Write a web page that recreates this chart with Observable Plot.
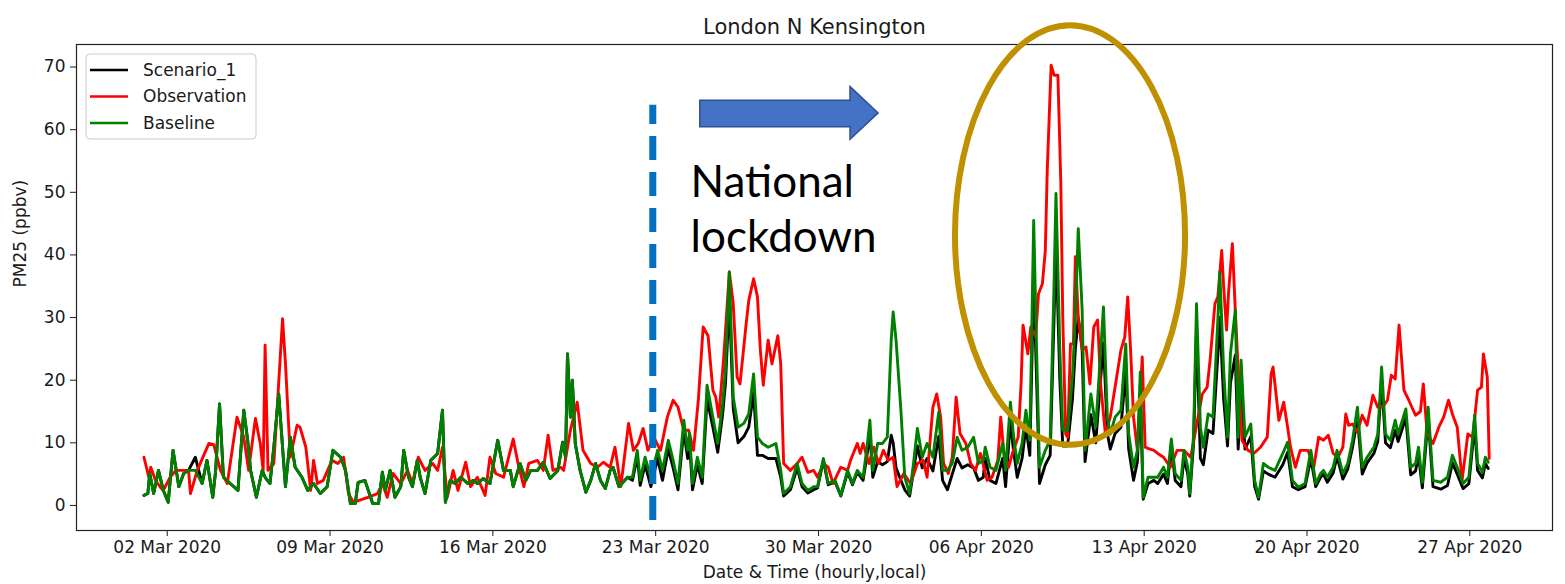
<!DOCTYPE html>
<html>
<head>
<meta charset="utf-8">
<script src="https://cdn.jsdelivr.net/npm/d3@7"></script>
<script src="https://cdn.jsdelivr.net/npm/@observablehq/plot@0.6"></script>
<style>
  html, body { margin: 0; padding: 0; background: #fff; }
  #chart svg { display: block; overflow: visible; }
</style>
</head>
<body>
<div id="chart"></div>
<script>
// ---- labels ----
const title = "London N Kensington";
const yLabel = "PM25 (ppbv)";
const xLabel = "Date & Time (hourly,local)";
const seriesNames = ["Scenario_1", "Observation", "Baseline"];
const seriesColors = ["#000000", "#ff0000", "#008000"];
const tickDates = ["2020-03-02", "2020-03-09", "2020-03-16", "2020-03-23", "2020-03-30",
                   "2020-04-06", "2020-04-13", "2020-04-20", "2020-04-27"];
const yTicks = [0, 10, 20, 30, 40, 50, 60, 70];

// ---- hourly PM2.5, stored as [hours since 01 Mar 2020 00:00, value] ----
const startTime = Date.UTC(2020, 2, 1, 0);

const observation = [
  [0,7.7],[5,4.5],[7,6.1],[12,4.0],[17,2.9],[20,2.4],[27,4.5],[33,5.6],[46,5.6],[48,1.9],[55,5.6],[67,9.9],
  [72,9.7],[79,5.6],[86,3.5],[96,14.1],[103,10.9],[108,5.6],[115,13.9],[120,9.9],[123,5.6],[125,25.6],[128,5.6],
  [134,6.7],[143,29.8],[146,22.7],[151,7.7],[158,12.8],[161,12.5],[167,9.3],[172,2.4],[175,7.2],[179,3.5],[185,4.0],
  [194,7.2],[200,6.7],[206,7.7],[211,1.9],[216,0.5],[231,1.3],[241,1.9],[246,3.5],[251,1.3],[257,5.1],[265,3.5],
  [272,5.6],[277,3.5],[283,7.7],[290,5.6],[298,6.7],[303,5.6],[308,9.3],[313,1.3],[319,5.6],[324,2.4],[332,6.9],
  [337,3.0],[344,4.5],[352,1.6],[357,7.7],[363,5.1],[371,4.5],[381,10.6],[386,6.7],[392,3.0],[397,6.7],[406,7.2],
  [412,5.6],[417,11.2],[422,5.6],[430,6.1],[433,5.6],[440,12.0],[447,16.5],[453,8.8],[461,6.7],[468,6.1],[474,6.9],
  [481,6.1],[486,9.3],[492,3.0],[500,13.1],[505,8.8],[510,9.9],[515,12.3],[520,8.8],[526,10.9],[533,8.8],[540,14.1],
  [546,16.8],[551,15.7],[557,12.0],[562,12.0],[567,8.8],[572,16.8],[577,28.5],[582,27.1],[587,18.4],[590,17.3],
  [593,14.1],[598,23.2],[604,37.3],[608,32.2],[612,20.5],[615,19.4],[621,28.5],[624,32.7],[629,36.2],[633,33.3],
  [636,24.8],[639,19.2],[644,26.4],[648,22.6],[654,27.1],[657,22.6],[660,6.7],[667,5.6],[674,6.7],[679,7.7],
  [685,5.3],[691,5.6],[695,4.5],[701,6.7],[706,6.1],[711,3.5],[719,6.1],[726,5.6],[729,7.2],[736,9.9],[739,8.3],
  [742,9.9],[748,6.7],[753,9.3],[758,6.7],[763,8.8],[768,7.2],[773,7.7],[777,3.0],[784,5.1],[791,3.5],[798,6.7],
  [804,7.2],[808,4.5],[814,15.7],[818,17.8],[822,14.1],[825,6.7],[830,5.1],[834,7.7],[838,17.3],[842,11.5],
  [848,9.9],[853,6.7],[858,5.6],[863,8.3],[870,4.0],[875,4.5],[881,7.2],[884,14.1],[887,8.8],[892,6.1],[897,8.8],
  [902,10.9],[905,19.4],[907,28.8],[912,24.2],[915,28.5],[920,26.9],[923,33.8],[927,35.4],[930,40.7],[932,53.5],
  [936,70.3],[939,68.7],[943,68.7],[946,51.4],[948,30.1],[951,11.4],[953,10.9],[956,25.8],[959,25.8],[961,39.7],
  [964,30.1],[968,24.8],[972,25.3],[976,19.4],[980,28.5],[984,29.6],[987,19.4],[992,11.4],[997,14.1],[1002,18.9],
  [1008,24.8],[1012,26.9],[1015,33.3],[1018,24.8],[1021,14.1],[1025,8.8],[1030,23.7],[1033,9.3],[1036,9.1],
  [1042,8.8],[1046,8.3],[1052,7.7],[1059,6.1],[1066,8.8],[1073,8.8],[1080,7.7],[1087,13.6],[1092,17.8],[1097,18.9],
  [1100,23.2],[1105,32.2],[1108,33.3],[1112,40.7],[1114,34.9],[1117,28.0],[1119,33.8],[1123,41.8],[1126,31.2],
  [1129,21.6],[1133,10.4],[1139,8.8],[1145,8.3],[1152,9.3],[1159,10.9],[1163,21.0],[1165,22.1],[1171,13.6],
  [1176,16.5],[1180,12.5],[1183,9.3],[1188,6.1],[1193,8.8],[1201,8.8],[1207,6.1],[1212,10.9],[1217,10.4],
  [1222,11.2],[1227,8.3],[1232,7.7],[1237,9.3],[1240,14.6],[1243,12.8],[1247,13.0],[1252,11.7],[1257,14.4],
  [1262,12.8],[1268,17.6],[1273,15.7],[1278,15.7],[1283,16.8],[1287,20.8],[1291,20.2],[1295,28.8],[1300,18.4],
  [1305,16.8],[1312,14.4],[1317,15.0],[1320,19.4],[1324,11.4],[1330,9.9],[1336,12.5],[1341,14.1],[1346,16.8],
  [1350,14.6],[1355,12.5],[1360,4.0],[1366,11.4],[1371,10.9],[1376,18.4],[1380,18.9],[1382,24.2],[1386,20.5],[1388,7.5]
];

const baseline = [
  [0,1.6],[4,1.9],[6,5.1],[10,1.9],[15,5.6],[20,2.4],[25,0.5],[30,8.8],[36,3.0],[41,5.1],[46,5.6],[53,5.6],[60,3.5],
  [65,7.2],[71,1.3],[74,5.6],[78,16.2],[82,4.5],[89,3.5],[97,2.4],[103,15.2],[107,10.4],[110,5.6],[116,1.3],[122,5.6],
  [125,4.5],[130,3.5],[134,9.3],[139,17.8],[144,7.2],[146,3.0],[151,10.9],[156,6.1],[163,4.5],[169,2.4],[175,3.5],
  [182,1.9],[189,3.0],[195,8.8],[203,7.7],[208,5.6],[213,0.3],[218,0.3],[221,3.7],[228,4.0],[236,0.3],[242,0.3],
  [246,5.3],[249,2.4],[254,5.6],[259,1.3],[265,3.0],[268,8.8],[273,4.5],[277,3.0],[282,7.2],[285,4.5],[290,1.9],
  [296,7.2],[303,8.3],[308,15.2],[311,0.5],[316,4.0],[321,3.5],[327,4.5],[334,3.5],[340,4.0],[344,3.5],[350,4.3],
  [357,3.5],[365,10.4],[371,5.6],[378,5.6],[381,3.0],[388,6.7],[394,4.0],[399,5.6],[406,5.6],[412,6.9],[419,4.3],
  [427,5.6],[432,10.1],[435,7.7],[437,24.2],[440,14.1],[442,20.0],[445,9.9],[450,5.6],[456,2.1],[461,4.0],[466,6.7],
  [471,4.0],[476,2.7],[481,5.6],[484,6.1],[490,3.0],[499,4.5],[504,4.5],[509,8.8],[512,4.0],[517,7.7],[523,4.5],
  [530,8.8],[535,5.6],[541,10.4],[546,7.2],[551,3.5],[557,13.6],[561,8.8],[563,11.5],[566,3.5],[571,7.7],[576,4.5],
  [581,19.2],[587,14.1],[592,9.9],[597,16.2],[600,21.6],[604,37.3],[608,17.3],[613,12.5],[619,13.1],[624,14.6],
  [629,21.0],[633,10.9],[638,9.9],[644,9.3],[652,9.9],[657,5.6],[660,1.9],[667,3.0],[674,6.7],[679,3.5],[685,2.4],
  [691,3.0],[695,3.0],[701,7.5],[706,3.5],[713,4.0],[719,1.6],[726,5.6],[731,3.5],[736,5.6],[742,4.5],[746,9.3],
  [749,13.6],[752,5.6],[757,9.9],[762,9.9],[767,10.9],[771,26.4],[773,30.9],[776,26.4],[781,15.2],[785,4.5],
  [790,1.9],[794,6.7],[798,12.3],[803,7.7],[808,9.9],[814,7.7],[820,14.9],[824,5.6],[829,5.6],[834,6.7],[839,10.9],
  [844,8.8],[850,9.3],[856,10.9],[861,6.7],[866,7.2],[868,9.3],[873,6.1],[879,5.6],[886,9.9],[889,5.6],[894,16.5],
  [897,11.4],[901,6.7],[906,9.9],[910,15.2],[914,10.4],[918,45.5],[921,24.8],[924,6.1],[930,8.8],[935,10.4],
  [939,35.4],[941,49.8],[945,24.8],[948,12.0],[953,12.0],[958,20.5],[961,30.1],[964,44.2],[968,31.2],[971,8.8],
  [977,17.8],[982,12.5],[985,19.4],[990,31.7],[994,14.1],[997,11.4],[1002,14.1],[1008,15.2],[1013,25.8],[1016,11.4],
  [1021,6.1],[1025,8.8],[1028,21.3],[1031,1.3],[1036,4.5],[1042,4.5],[1046,4.5],[1052,6.1],[1056,4.5],[1060,10.6],
  [1064,5.1],[1070,4.0],[1073,8.8],[1077,6.1],[1079,1.9],[1083,11.4],[1086,32.2],[1090,12.5],[1093,9.3],[1098,14.6],
  [1103,14.1],[1108,29.6],[1110,37.3],[1114,21.6],[1118,10.9],[1121,24.2],[1126,31.2],[1129,10.9],[1132,23.2],
  [1136,10.9],[1142,13.0],[1146,4.0],[1150,1.3],[1155,6.7],[1160,6.1],[1167,5.6],[1175,8.3],[1180,10.1],[1185,4.0],
  [1191,2.9],[1198,3.5],[1204,8.8],[1209,3.5],[1214,5.1],[1217,5.6],[1221,4.5],[1227,6.1],[1231,8.8],[1237,5.1],
  [1242,6.7],[1247,10.4],[1252,15.7],[1257,6.1],[1262,7.7],[1269,9.3],[1273,11.4],[1277,22.1],[1281,11.4],
  [1286,10.4],[1291,13.6],[1294,11.4],[1302,15.4],[1307,6.1],[1312,6.7],[1315,9.3],[1319,3.7],[1325,15.7],
  [1330,4.0],[1338,3.7],[1345,4.5],[1350,8.0],[1355,6.1],[1361,3.5],[1367,4.5],[1373,14.4],[1376,6.7],[1381,5.3],
  [1384,7.7],[1387,6.9]
];

const scenario1 = [
  [0,1.6],[4,1.9],[6,5.1],[10,1.9],[15,5.6],[20,2.4],[25,0.5],[30,8.8],[36,3.0],[41,5.1],[46,5.6],[53,7.7],[60,3.5],
  [65,7.2],[71,1.3],[74,5.6],[78,16.2],[82,4.5],[89,3.5],[97,2.4],[103,15.2],[107,10.4],[110,5.6],[116,1.3],[122,5.6],
  [125,4.5],[130,3.5],[134,9.3],[139,17.8],[144,7.2],[146,3.0],[151,10.9],[156,6.1],[163,4.5],[169,2.4],[175,3.5],
  [182,1.9],[189,3.0],[195,8.8],[203,7.7],[208,5.6],[213,0.3],[218,0.3],[221,3.7],[228,4.0],[236,0.3],[242,0.3],
  [246,5.3],[249,2.4],[254,5.6],[259,1.3],[265,3.0],[268,8.8],[273,4.5],[277,3.0],[282,7.2],[285,4.5],[290,1.9],
  [296,7.2],[303,8.3],[308,15.2],[311,0.5],[316,4.0],[321,3.5],[327,4.5],[334,3.5],[340,4.0],[344,3.5],[350,4.3],
  [357,3.5],[365,10.4],[371,5.6],[378,5.6],[381,3.0],[388,6.7],[394,4.0],[399,5.6],[406,5.6],[412,6.9],[419,4.3],
  [427,5.6],[432,10.1],[435,7.7],[437,24.2],[440,14.1],[442,20.0],[445,9.9],[450,5.6],[456,2.1],[461,4.0],[466,6.7],
  [471,4.0],[476,2.7],[481,5.6],[484,6.1],[490,3.0],[499,4.5],[504,4.0],[509,7.8],[512,3.2],[517,6.5],[523,3.0],
  [530,7.5],[535,4.0],[541,9.0],[546,6.0],[551,2.5],[557,12.0],[561,7.5],[563,10.0],[566,2.5],[571,6.5],[576,3.5],
  [581,17.0],[587,12.5],[592,8.5],[597,14.5],[600,19.5],[604,33.0],[608,15.5],[613,10.0],[619,11.0],[624,12.5],
  [629,18.0],[633,8.0],[638,8.0],[644,7.5],[652,7.5],[657,4.5],[660,1.5],[667,2.5],[674,6.0],[679,3.0],[685,2.0],
  [691,2.5],[695,2.8],[701,7.2],[706,3.3],[713,3.8],[719,1.5],[726,5.3],[731,3.3],[736,5.3],[742,4.0],[746,8.0],
  [749,11.5],[752,4.5],[757,7.0],[762,6.5],[767,7.0],[771,11.2],[773,10.0],[776,6.0],[781,4.0],[785,2.5],[790,1.5],
  [794,5.5],[798,9.5],[803,6.0],[808,7.5],[814,5.5],[820,11.0],[824,4.0],[829,2.5],[834,5.0],[839,7.5],[844,6.0],
  [850,6.5],[856,6.0],[861,4.0],[866,4.5],[868,7.5],[873,4.0],[879,3.5],[886,7.5],[889,3.0],[894,13.5],[897,9.0],
  [901,4.5],[906,7.5],[910,12.5],[914,8.0],[918,36.0],[921,20.0],[924,3.5],[930,6.5],[935,8.0],[939,30.0],[941,42.0],
  [945,20.0],[948,9.5],[953,9.5],[958,17.0],[961,25.0],[964,30.0],[968,25.0],[971,7.0],[977,14.5],[982,10.0],
  [985,16.0],[990,26.0],[994,11.5],[997,9.0],[1002,11.5],[1008,12.5],[1013,21.5],[1016,9.0],[1021,4.0],[1025,7.0],
  [1028,17.5],[1031,1.0],[1036,3.5],[1042,4.0],[1046,3.5],[1052,5.0],[1056,3.5],[1060,9.5],[1064,4.0],[1070,3.0],
  [1073,7.5],[1077,5.0],[1079,1.5],[1083,10.0],[1086,28.0],[1090,7.5],[1093,6.5],[1098,12.0],[1103,11.5],
  [1108,24.0],[1110,30.0],[1114,17.0],[1118,9.5],[1121,19.5],[1126,24.0],[1129,9.0],[1132,19.0],[1136,9.0],
  [1142,11.0],[1146,3.0],[1150,1.0],[1155,5.5],[1160,5.0],[1167,4.5],[1175,6.5],[1180,8.5],[1185,3.0],[1191,2.5],
  [1198,3.0],[1204,7.5],[1209,3.0],[1214,4.5],[1217,5.0],[1221,3.7],[1227,5.2],[1231,7.8],[1237,4.2],[1242,5.8],
  [1247,9.3],[1252,14.0],[1257,5.0],[1262,6.8],[1269,8.3],[1273,10.2],[1277,20.0],[1281,10.0],[1286,9.2],
  [1291,12.0],[1294,10.2],[1302,14.0],[1307,4.9],[1312,5.5],[1315,8.0],[1319,2.8],[1325,14.0],[1330,3.0],
  [1338,2.6],[1345,3.2],[1350,6.8],[1355,5.0],[1361,2.7],[1367,3.5],[1373,12.8],[1376,5.6],[1381,4.4],[1384,6.7],
  [1387,5.9]
];

// ---- annotation geometry, in data units (hours since start, PM25) ----
const lockdownHour = 525;            // evening of 22 Mar
const lockdownSpan = [-2.4, 63.9];
const lockdownText = "National\nlockdown";
const lockdownTextAt = [564, 55.5];
const arrowShape = [[574,64.6],[729,64.6],[729,66.8],[758,62.6],[729,58.4],[729,60.4],[574,60.4]];
const highlightCenter = [956, 43.1];
const highlightRadius = [118.7, 33.5];

// ---- build the long table ----
const hour = 3600e3;
const toTime = h => new Date(startTime + h * hour);
const seriesData = [scenario1, observation, baseline];
const rows = seriesData.flatMap((pts, i) =>
  pts.map(([h, v]) => ({time: toTime(h), value: v, series: seriesNames[i]})));

const chart = Plot.plot({
  width: 1565,
  height: 584,
  marginLeft: 76,
  marginRight: 13,
  marginTop: 44,
  marginBottom: 54,
  style: {fontFamily: "'DejaVu Sans', sans-serif", fontSize: "17px", color: "#1a1a1a", background: "#fff", overflow: "visible"},
  x: {type: "utc", domain: [toTime(-69.6), toTime(1453.3)]},
  y: {domain: [-4, 73.6]},
  marks: [
    Plot.axisX({ticks: tickDates.map(d => new Date(d)), tickFormat: d3.utcFormat("%d %b %Y"),
                tickSize: 6, tickPadding: 4, label: null}),
    Plot.axisY({ticks: yTicks, tickSize: 6, tickPadding: 5, label: null}),
    ...seriesNames.map((name, i) =>
      Plot.line(rows.filter(r => r.series === name),
        {x: "time", y: "value", stroke: seriesColors[i], strokeWidth: 2.9})),
    Plot.frame({stroke: "#222", strokeWidth: 1.2}),
    Plot.ruleX([toTime(lockdownHour)], {y1: lockdownSpan[0], y2: lockdownSpan[1],
      stroke: "#0070C0", strokeWidth: 7, strokeDasharray: "24,12"}),
    Plot.text([title], {frameAnchor: "top", lineAnchor: "middle", dy: -17, fontSize: 21}),
    Plot.text([xLabel], {frameAnchor: "bottom", lineAnchor: "middle", dy: 42}),
    Plot.text([yLabel], {frameAnchor: "left", dx: -56, rotate: -90}),
    Plot.text([lockdownText], {x: toTime(lockdownTextAt[0]), y: lockdownTextAt[1], textAnchor: "start",
      lineAnchor: "top", fontSize: 44, fontFamily: "Lato, 'Open Sans', sans-serif", lineHeight: 1.25, fill: "#000"})
  ]
});

document.getElementById("chart").appendChild(chart);

// ---- overlay: arrow, highlight ellipse and legend ----
const svg = d3.select(chart);
const xs = chart.scale("x"), ys = chart.scale("y");
const px = ([h, v]) => [xs.apply(toTime(h)), ys.apply(v)];

svg.append("path")
  .attr("d", d3.line()(arrowShape.map(px)) + "Z")
  .attr("fill", "#4472C4").attr("stroke", "#2F528F").attr("stroke-width", 1.5);

const [cx, cy] = px(highlightCenter);
const [ex, ey] = px([highlightCenter[0] + highlightRadius[0], highlightCenter[1] - highlightRadius[1]]);
svg.append("ellipse")
  .attr("cx", cx).attr("cy", cy).attr("rx", ex - cx).attr("ry", ey - cy)
  .attr("fill", "none").attr("stroke", "#BF9000").attr("stroke-width", 6);

const legend = svg.append("g").attr("transform", "translate(86,54)");
legend.append("rect").attr("width", 170).attr("height", 85).attr("rx", 4)
  .attr("fill", "#fff").attr("fill-opacity", 0.8).attr("stroke", "#cccccc");
seriesNames.forEach((name, i) => {
  const y = 16 + i * 26.5;
  legend.append("line").attr("x1", 4).attr("x2", 42).attr("y1", y).attr("y2", y)
    .attr("stroke", seriesColors[i]).attr("stroke-width", 2.6);
  legend.append("text").attr("x", 57).attr("y", y).attr("dy", "0.35em")
    .attr("text-anchor", "start").attr("fill", "#1a1a1a").text(name);
});
</script>
</body>
</html>
